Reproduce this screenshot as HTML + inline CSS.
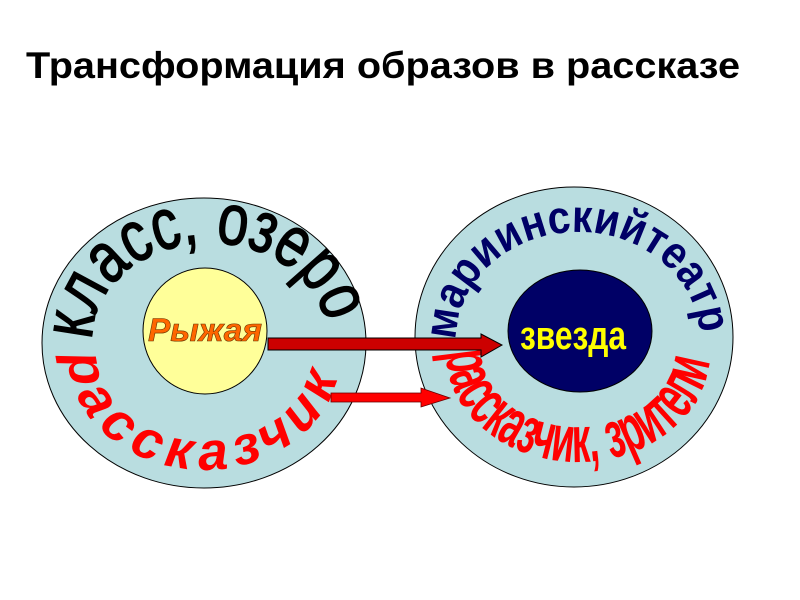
<!DOCTYPE html>
<html><head><meta charset="utf-8"><style>
html,body{margin:0;padding:0;background:#fff;width:800px;height:600px;overflow:hidden}
svg{display:block}
</style></head><body>
<svg width="800" height="600" viewBox="0 0 800 600" xmlns="http://www.w3.org/2000/svg">
<defs>
<path id="lt" d="M 92 340 A 114 94 0 0 1 328 340"/>
<path id="lb" d="M 68 355 A 135 114 0 0 0 340 355"/>
<path id="rt" d="M 456 340 A 122 108 0 0 1 700 340"/>
<path id="rb" d="M 446 352 A 132 110 0 0 0 710 352"/>
</defs>
<text x="26" y="78" font-family="Liberation Sans, sans-serif" font-weight="bold" font-size="37" textLength="714" lengthAdjust="spacingAndGlyphs">Трансформация образов в рассказе</text>

<ellipse cx="204" cy="343" rx="162" ry="145" fill="#b9dde0" stroke="#000" stroke-width="1"/>
<ellipse cx="205" cy="331" rx="62" ry="63" fill="#ffff99" stroke="#000" stroke-width="1"/>
<ellipse cx="574" cy="337" rx="159" ry="150" fill="#b9dde0" stroke="#000" stroke-width="1"/>
<ellipse cx="580" cy="331" rx="72" ry="61" fill="#000066" stroke="#000" stroke-width="1"/>

<text font-family="Liberation Sans, sans-serif" font-size="72" fill="#000" stroke="#000" stroke-width="1.5"><textPath href="#lt" textLength="322" lengthAdjust="spacingAndGlyphs">класс, озеро</textPath></text>
<text font-family="Liberation Sans, sans-serif" font-style="italic" font-weight="bold" font-size="54" fill="#ff0000"><textPath href="#lb" textLength="372" lengthAdjust="spacing">рассказчик</textPath></text>
<text font-family="Liberation Sans, sans-serif" font-weight="bold" font-size="46" fill="#000066"><textPath href="#rt" textLength="355" lengthAdjust="spacingAndGlyphs">мариинскийтеатр</textPath></text>
<text font-family="Liberation Sans, sans-serif" font-weight="bold" font-size="66" fill="#ff0000"><textPath href="#rb" textLength="372" lengthAdjust="spacingAndGlyphs">рассказчик, зрители</textPath></text>

<text x="205" y="341" text-anchor="middle" font-family="Liberation Sans, sans-serif" font-style="italic" font-weight="bold" font-size="32" fill="#ff6600" stroke="#663300" stroke-width="0.6" textLength="114" lengthAdjust="spacingAndGlyphs">Рыжая</text>
<text x="573" y="349" text-anchor="middle" font-family="Liberation Sans, sans-serif" font-weight="bold" font-size="40" fill="#ffff00" textLength="106" lengthAdjust="spacingAndGlyphs">звезда</text>

<polygon points="268,338 481,338 481,334 502,345 481,357 481,350 268,350" fill="#cc0000" stroke="#000" stroke-width="1"/>
<polygon points="331,393 421,393 421,388 450,398 421,407 421,402 331,402" fill="#ff0000" stroke="#660000" stroke-width="0.8"/>
</svg>
</body></html>
